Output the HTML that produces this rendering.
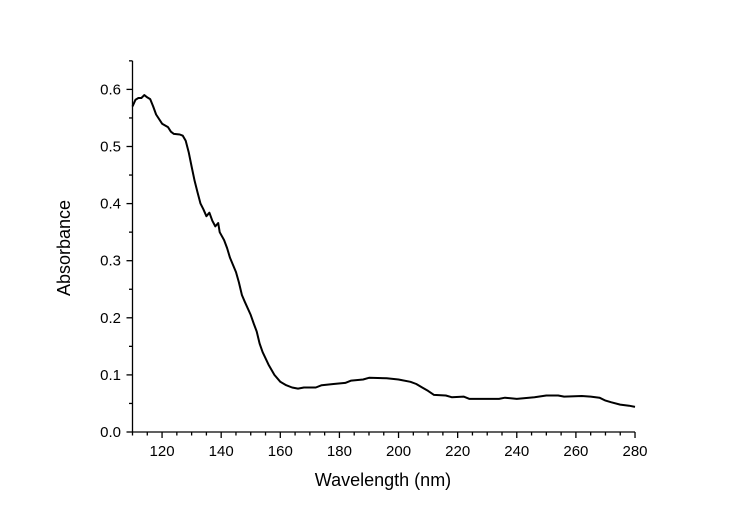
<!DOCTYPE html>
<html><head><style>
html,body{margin:0;padding:0;background:#fff;}
svg text{font-family:"Liberation Sans",Arial,sans-serif;fill:#000;}
</style></head><body>
<svg id="s" width="738" height="518" xmlns="http://www.w3.org/2000/svg">
<rect width="738" height="518" fill="#fff"/>
<g id="ax" stroke="#000" stroke-width="1.3" fill="none"></g>
<g id="lb" font-size="15"></g>
<text x="383" y="486" font-size="18" text-anchor="middle">Wavelength (nm)</text>
<text transform="translate(70,248) rotate(-90)" font-size="18" text-anchor="middle">Absorbance</text>
<path id="c" stroke="#000" stroke-width="2" fill="none" stroke-linejoin="round"/>
</svg>
<script>
var X=function(v){return 132.5+(v-110)*2.956;},Y=function(a){return 432-a*571;};
var ax=document.getElementById('ax'),lb=document.getElementById('lb'),ns='http://www.w3.org/2000/svg';
function ln(x1,y1,x2,y2){var l=document.createElementNS(ns,'line');l.setAttribute('x1',x1);l.setAttribute('y1',y1);l.setAttribute('x2',x2);l.setAttribute('y2',y2);ax.appendChild(l);}
function tx(x,y,t,a){var e=document.createElementNS(ns,'text');e.setAttribute('x',x);e.setAttribute('y',y);e.setAttribute('text-anchor',a);e.textContent=t;lb.appendChild(e);}
ln(132.5,432,X(280),432);ln(132.5,432,132.5,Y(0.65));
for(var v=110;v<=280;v+=5){var m=(v%20==0);ln(X(v),432,X(v),432+(m?6:3.5));if(m)tx(X(v),456,String(v),'middle');}
for(var i=0;i<=13;i++){var a=i*0.05,m=(i%2==0);ln(132.5,Y(a),132.5-(m?6:3.5),Y(a));if(m)tx(121,Y(a)+5,(a).toFixed(1),'end');}
var d=[[110,0.57],[111,0.582],[112,0.585],[113,0.585],[114,0.59],[115,0.586],[116,0.583],[117,0.57],[118,0.556],[120,0.54],[122,0.534],[123,0.526],[124,0.522],[126,0.521],[127,0.519],[128,0.51],[129,0.49],[130,0.465],[131,0.44],[132,0.42],[133,0.4],[134,0.39],[135,0.378],[136,0.384],[137,0.37],[138,0.36],[139,0.366],[139.5,0.35],[141,0.336],[142,0.322],[143,0.305],[145,0.28],[146,0.262],[147,0.24],[148,0.228],[150,0.205],[151,0.19],[152,0.176],[153,0.155],[154,0.14],[156,0.118],[158,0.1],[160,0.088],[162,0.082],[164,0.078],[166,0.076],[168,0.078],[172,0.078],[174,0.082],[178,0.084],[182,0.086],[184,0.09],[188,0.092],[190,0.095],[196,0.094],[200,0.092],[204,0.088],[206,0.084],[208,0.078],[210,0.072],[212,0.065],[216,0.064],[218,0.061],[222,0.062],[224,0.058],[234,0.058],[236,0.06],[240,0.058],[246,0.061],[250,0.064],[254,0.064],[256,0.062],[262,0.063],[265,0.062],[268,0.06],[270,0.055],[272,0.052],[275,0.048],[278,0.046],[280,0.044]];
var p='';d.forEach(function(q,i){p+=(i?'L':'M')+X(q[0]).toFixed(1)+' '+Y(q[1]).toFixed(1);});
document.getElementById('c').setAttribute('d',p);
</script>
</body></html>
